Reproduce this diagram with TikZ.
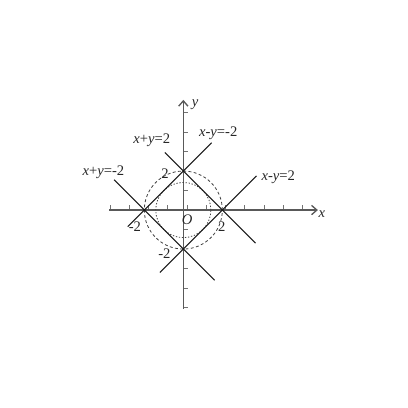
\documentclass[tikz,border=0pt]{standalone}
\usepackage{fontspec}
\setmainfont{Liberation Serif}
\usetikzlibrary{arrows.meta}
\begin{document}
\begin{tikzpicture}[x=0.516cm,y=0.516cm,
  axis/.style={draw=black!65,line width=1pt,-{Straight Barb[length=4pt,width=7pt]}},
  tick/.style={draw=black!55,line width=0.6pt},
  curve/.style={draw=black!90,line width=0.8pt},
  lab/.style={text=black!85,font=\fontsize{11}{13}\selectfont,inner sep=0pt}]
\useasboundingbox (-9.4,-10.15) rectangle (11.52,10.77);
% ticks
\foreach \k in {0,...,10} {\draw[tick] ({-3.76+\k*0.987},0) -- ++(0,0.25);}
\foreach \k in {-5,-4,-3,-1,1,3,4,5} {\draw[tick] (0,\k) -- ++(0.25,0);}
% axes
\coordinate (xs) at (-3.81,0); \coordinate (xe) at (6.9,0);
\coordinate (ys) at (0,-5.05); \coordinate (ye) at (0,5.65);
\draw[axis] (xs) -- (xe);
\draw[axis] (ys) -- (ye);
% circles
\draw[black!75,line width=0.6pt,dash pattern=on 2.2pt off 1.8pt] (0,0) circle (2);
\draw[black!75,line width=0.6pt,dash pattern=on 1pt off 1.3pt] (0,0) circle (1.414);
% lines
\coordinate (a1) at (-0.95,2.95); \coordinate (a2) at (3.7,-1.7);
\coordinate (b1) at (-2.85,-0.85); \coordinate (b2) at (1.45,3.45);
\coordinate (c1) at (-3.55,1.55); \coordinate (c2) at (1.6,-3.6);
\coordinate (d1) at (-1.2,-3.2); \coordinate (d2) at (3.75,1.75);
\draw[curve] (a1) -- (a2);
\draw[curve] (b1) -- (b2);
\draw[curve] (c1) -- (c2);
\draw[curve] (d1) -- (d2);
% labels
\node[lab] (ly) at (0.6,5.38) {\itshape y};
\node[lab] (lx) at (7.1,-0.2) {\itshape x};
\node[lab] (l1) at (-1.62,3.59) {\itshape x\upshape+\itshape y\upshape=2};
\node[lab] (l2) at (1.79,3.93) {\itshape x\upshape-\itshape y\upshape=-2};
\node[lab] (l3) at (-4.1,1.93) {\itshape x\upshape+\itshape y\upshape=-2};
\node[lab] (l4) at (4.87,1.68) {\itshape x\upshape-\itshape y\upshape=2};
\node[lab] (t1) at (-0.94,1.88) {2};
\node[lab] (t2) at (0.2,-0.48) {\itshape O};
\node[lab] (t3) at (-2.48,-0.86) {-2};
\node[lab] (t4) at (1.97,-0.86) {2};
\node[lab] (t5) at (-0.97,-2.26) {-2};
\end{tikzpicture}
\end{document}
